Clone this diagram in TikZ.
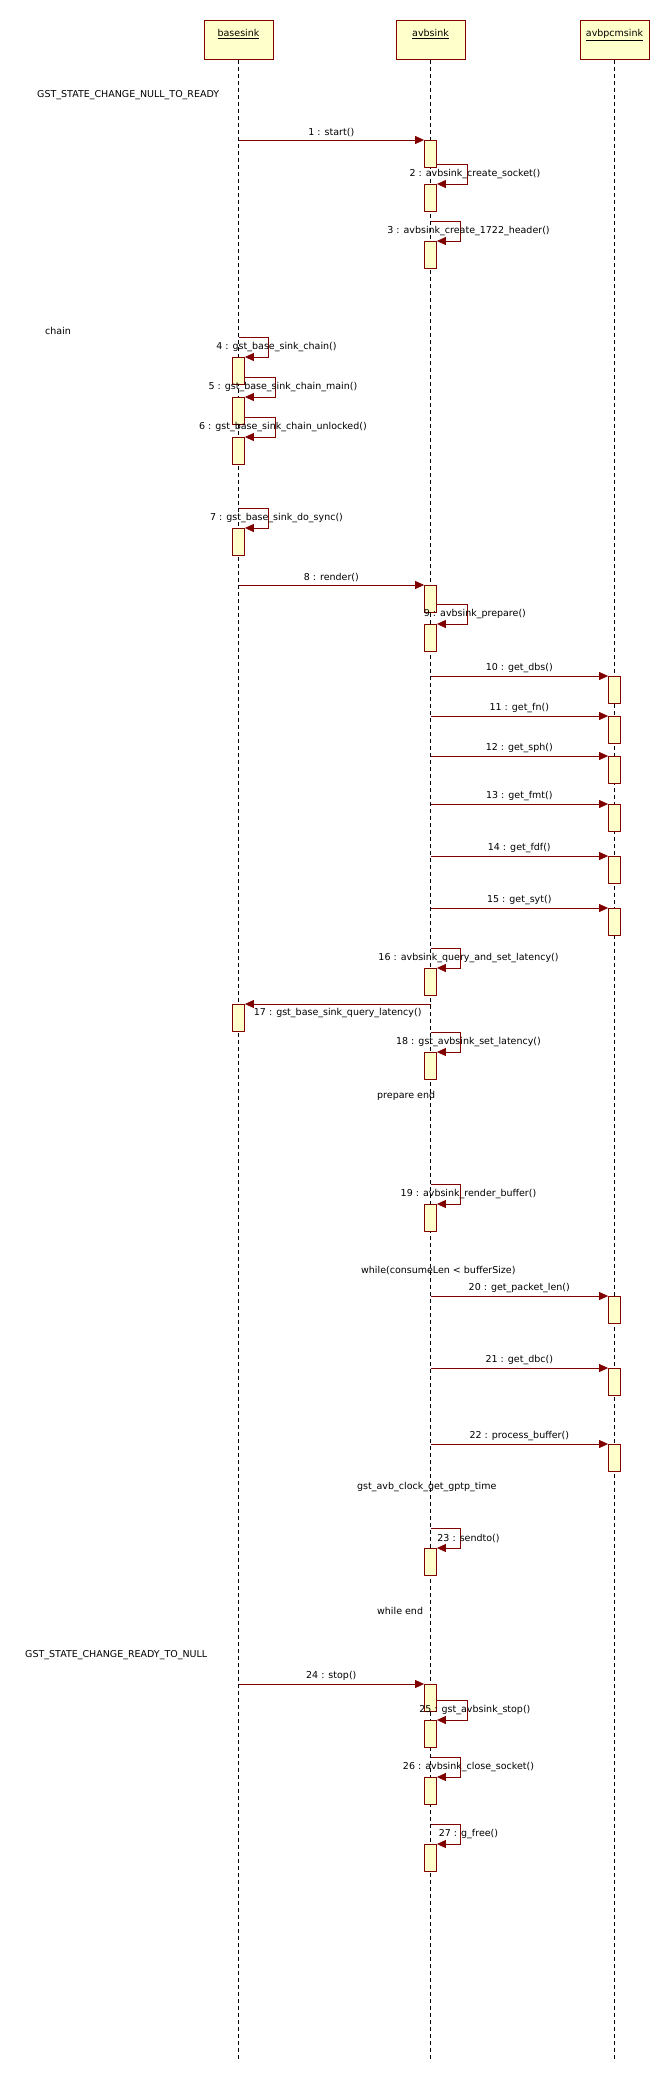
\documentclass[tikz,border=0pt]{standalone}
\usepackage{fontspec}
\setmainfont{DejaVu Sans}
\usepackage{tikz}
\usetikzlibrary{arrows.meta,calc}
\definecolor{umlred}{HTML}{800000}
\definecolor{umlyellow}{HTML}{FFFFCC}
\tikzset{
  obj/.style={draw=umlred,fill=umlyellow,line width=0.8pt,minimum width=69pt,
    minimum height=39pt,inner sep=0pt,text height=16pt,text depth=23pt,anchor=north},
  act/.style={draw=umlred,fill=umlyellow,line width=0.8pt,minimum width=12pt,
    minimum height=27pt,inner sep=0pt,anchor=north},
  msg/.style={draw=umlred,line width=0.8pt,-{Triangle[length=9pt,width=8pt]}},
  lifeline/.style={line width=0.8pt,dash pattern=on 4pt off 3pt},
  note/.style={anchor=west,inner sep=0pt},
}

\begin{document}
\begin{tikzpicture}[x=1pt,y=-1pt,font=\fontsize{9.5}{11}\selectfont]
  \useasboundingbox (0,0) rectangle (669,2080);
  \node[obj] (basesink) at (238.5,20) {\underline{basesink}};
  \node[obj] (avbsink) at (430.5,20) {\underline{avbsink}};
  \node[obj] (avbpcmsink) at (614.5,20) {\underline{avbpcmsink}};
  \coordinate (bottom) at (0,2059);
  \foreach \o in {basesink,avbsink,avbpcmsink}
    \draw[lifeline] (\o.south) -- (\o |- bottom);
  % activations
  \foreach \n/\o/\y in {1/avbsink/140,2/avbsink/184,3/avbsink/241,4/basesink/357,
      5/basesink/397,6/basesink/437,7/basesink/528,8/avbsink/585,9/avbsink/624,
      10/avbpcmsink/676,11/avbpcmsink/716,12/avbpcmsink/756,13/avbpcmsink/804,
      14/avbpcmsink/856,15/avbpcmsink/908,16/avbsink/968,17/basesink/1004,
      18/avbsink/1052,19/avbsink/1204,20/avbpcmsink/1296,21/avbpcmsink/1368,
      22/avbpcmsink/1444,23/avbsink/1548,24/avbsink/1684,25/avbsink/1720,
      26/avbsink/1777,27/avbsink/1844}
    \node[act] (a\n) at (\o |- 0,\y) {};
  % calls between objects
  \foreach \n/\l in {1/{start()},8/{render()},24/{stop()}}
    \draw[msg] (basesink |- a\n.north) -- node[above] {\n{} : \l} (a\n.north west);
  \foreach \n/\l in {10/{get\_dbs()},11/{get\_fn()},12/{get\_sph()},13/{get\_fmt()},
      14/{get\_fdf()},15/{get\_syt()},20/{get\_packet\_len()},21/{get\_dbc()},
      22/{process\_buffer()}}
    \draw[msg] (avbsink |- a\n.north) -- node[above] {\n{} : \l} (a\n.north west);
  \draw[msg] (avbsink |- a17.north) -- node[below=1pt] {17 : gst\_base\_sink\_query\_latency()} (a17.north east);
  % self calls
  \foreach \f/\n/\l in {a1.east/2/{avbsink\_create\_socket()},
      avbsink/3/{avbsink\_create\_1722\_header()},
      basesink/4/{gst\_base\_sink\_chain()},
      a4.east/5/{gst\_base\_sink\_chain\_main()},
      a5.east/6/{gst\_base\_sink\_chain\_unlocked()},
      basesink/7/{gst\_base\_sink\_do\_sync()},
      a8.east/9/{avbsink\_prepare()},
      avbsink/16/{avbsink\_query\_and\_set\_latency()},
      avbsink/18/{gst\_avbsink\_set\_latency()},
      avbsink/19/{avbsink\_render\_buffer()},
      avbsink/23/{sendto()},
      a24.east/25/{gst\_avbsink\_stop()},
      avbsink/26/{avbsink\_close\_socket()},
      avbsink/27/{g\_free()}}
    \draw[msg] ($(\f |- a\n.north)+(0,-20)$) -- ++(30,0)
      |- node[pos=0.25,xshift=8pt] {\n{} : \l} (a\n.north east);
  % notes
  \node[note] (nullready) at (37,95) {GST\_STATE\_CHANGE\_NULL\_TO\_READY};
  \node[note] (chain) at (45,331) {chain};
  \node[note] (prepareend) at (377,1096) {prepare end};
  \node[note] (whilestart) at (361,1271) {while(consumeLen < bufferSize)};
  \node[note] (gptp) at (357,1487) {gst\_avb\_clock\_get\_gptp\_time};
  \node[note] (whileend) at (377,1611) {while end};
  \node[note] (readynull) at (25,1655) {GST\_STATE\_CHANGE\_READY\_TO\_NULL};
\end{tikzpicture}
\end{document}
